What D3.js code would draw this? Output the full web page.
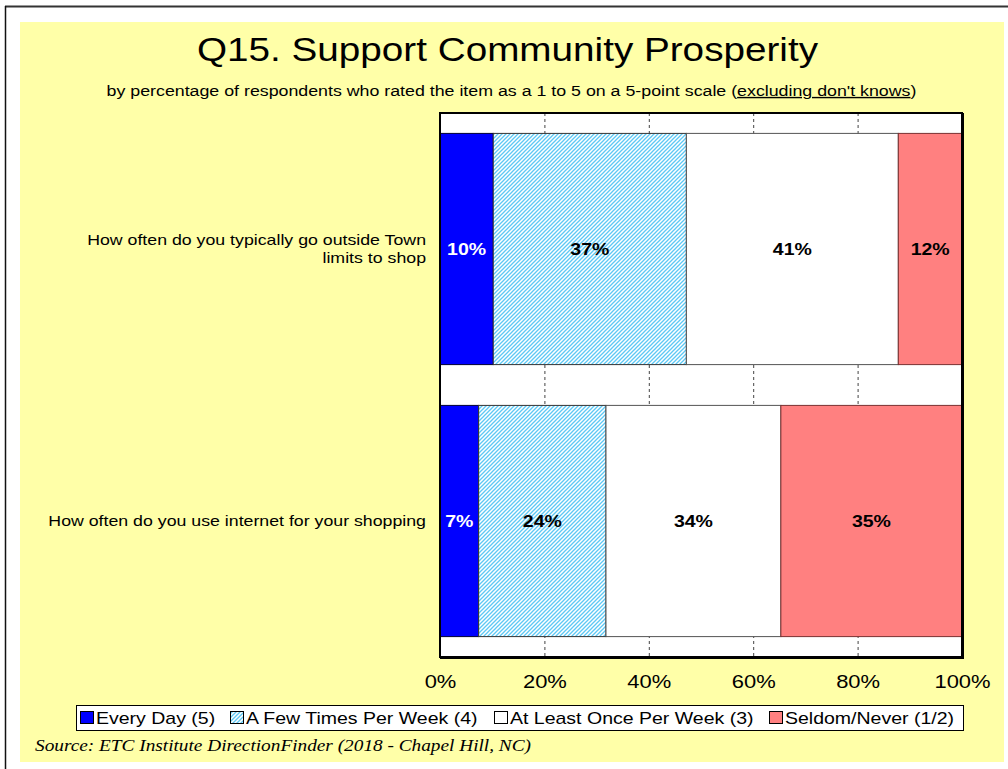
<!DOCTYPE html>
<html>
<head>
<meta charset="utf-8">
<script src="https://cdn.jsdelivr.net/npm/d3@7"></script>
<style>
  html, body { margin: 0; padding: 0; background: #ffffff; }
  svg { display: block; }
</style>
</head>
<body>
<svg id="chart" width="1008" height="769"></svg>
<script>
const categories = [
  "How often do you typically go outside Town limits to shop",
  "How often do you use internet for your shopping"
];
const seriesNames = ["Every Day (5)", "A Few Times Per Week (4)", "At Least Once Per Week (3)", "Seldom/Never (1/2)"];
const everyDay = [10.2, 7.4];
const fewTimes = [37.0, 24.4];
const onceWeek = [40.6, 33.5];
const seldom = [12.2, 34.7];
const tickValues = [0, 20, 40, 60, 80, 100];
const tickLabels = ["0%", "20%", "40%", "60%", "80%", "100%"];

const FONT = "Liberation Sans, Arial, sans-serif";
const svg = d3.select("#chart");

// helper: horizontally stretched text
function stretchedText(parent, x, y, sx, anchor) {
  return parent.append("text")
    .attr("transform", `translate(${x},${y}) scale(${sx},1)`)
    .attr("text-anchor", anchor)
    .attr("font-family", FONT).attr("fill", "#000");
}

// outer frame
svg.append("rect").attr("x", 20).attr("y", 22).attr("width", 984).attr("height", 740).attr("fill", "#FFFFA8");
svg.append("line").attr("x1", 5).attr("x2", 1008).attr("y1", 6.5).attr("y2", 6.5).attr("stroke", "#333").attr("stroke-width", 2);
svg.append("line").attr("x1", 5.5).attr("x2", 5.5).attr("y1", 6).attr("y2", 769).attr("stroke", "#111").attr("stroke-width", 1.5);

// pattern
const defs = svg.append("defs");
const pat = defs.append("pattern").attr("id", "hatch").attr("patternUnits", "userSpaceOnUse")
  .attr("width", 4).attr("height", 4);
pat.append("rect").attr("width", 4).attr("height", 4).attr("fill", "#ffffff");
pat.append("path").attr("d", "M-1,1 l2,-2 M0,4 l4,-4 M3,5 l2,-2").attr("stroke", "#5CC8F5").attr("stroke-width", 1.3);

// title
svg.append("text").attr("x", 507.5).attr("y", 61).attr("text-anchor", "middle")
  .attr("font-family", FONT).attr("font-size", 33).attr("fill", "#000")
  .attr("textLength", 621).attr("lengthAdjust", "spacingAndGlyphs")
  .text("Q15. Support Community Prosperity");
const sub = stretchedText(svg, 511.5, 96, 1.27, "middle").attr("font-size", 14);
sub.append("tspan").text("by percentage of respondents who rated the item as a 1 to 5 on a 5-point scale (");
sub.append("tspan").attr("text-decoration", "underline").text("excluding don't knows");
sub.append("tspan").text(")");

// scales
const x = d3.scaleLinear().domain([0, 100]).range([440, 962]);
const y = d3.scaleBand().domain(categories).range([113, 657]).paddingInner(0.15).paddingOuter(0.075);

// plot area
svg.append("rect").attr("x", 440).attr("y", 113).attr("width", 522).attr("height", 544).attr("fill", "#fff");

// gridlines
svg.append("g").selectAll("line").data(tickValues.slice(1, -1)).join("line")
  .attr("x1", d => x(d) + 0.5).attr("x2", d => x(d) + 0.5)
  .attr("y1", 113).attr("y2", 657)
  .attr("stroke", "#444").attr("stroke-width", 1).attr("stroke-dasharray", "3,3");

// stacked data
const rows = categories.map((c, i) => ({ cat: c, e: everyDay[i], f: fewTimes[i], o: onceWeek[i], s: seldom[i] }));
const stacked = d3.stack().keys(["e", "f", "o", "s"])(rows);
const fills = ["#0000FF", "url(#hatch)", "#FFFFFF", "#FF8080"];
const strokes = ["#000033", "#333333", "#555555", "#7a3030"];
const labelColors = ["#ffffff", "#000", "#000", "#000"];

stacked.forEach((layer, li) => {
  const g = svg.append("g");
  g.selectAll("rect").data(layer).join("rect")
    .attr("x", d => x(d[0])).attr("width", d => x(d[1]) - x(d[0]))
    .attr("y", d => y(d.data.cat)).attr("height", y.bandwidth())
    .attr("fill", fills[li]).attr("stroke", strokes[li]).attr("stroke-width", 1);
  g.selectAll("text").data(layer).join("text")
    .attr("transform", d => `translate(${(x(d[0]) + x(d[1])) / 2},${y(d.data.cat) + y.bandwidth() / 2 + 6}) scale(1.22,1)`)
    .attr("text-anchor", "middle")
    .attr("font-family", FONT).attr("font-weight", "bold").attr("font-size", 16)
    .attr("fill", labelColors[li])
    .text(d => Math.round(d[1] - d[0]) + "%");
});

// plot border
svg.append("rect").attr("x", 440).attr("y", 113).attr("width", 522).attr("height", 544)
  .attr("fill", "none").attr("stroke", "#000").attr("stroke-width", 2);
svg.append("line").attr("x1", 440).attr("x2", 963.5).attr("y1", 657.5).attr("y2", 657.5).attr("stroke", "#000").attr("stroke-width", 3);
svg.append("line").attr("x1", 962.5).attr("x2", 962.5).attr("y1", 113).attr("y2", 659).attr("stroke", "#000").attr("stroke-width", 3);

// x axis
const xAxis = d3.axisBottom(x).tickValues(tickValues).tickFormat((d, i) => tickLabels[i]).tickSize(0).tickPadding(0);
const ax = svg.append("g").attr("transform", "translate(0,688)").call(xAxis);
ax.select(".domain").remove();
ax.selectAll("text").attr("font-family", FONT).attr("font-size", 18).attr("fill", "#000")
  .attr("dy", 0).attr("y", 0).attr("transform", "scale(1.22,1)");

// y axis labels
const catLines = [
  ["How often do you typically go outside Town", "limits to shop"],
  ["How often do you use internet for your shopping"]
];
categories.forEach((c, i) => {
  const lines = catLines[i];
  const cy = y(c) + y.bandwidth() / 2;
  lines.forEach((ln, j) => {
    stretchedText(svg, 426, cy + 5 + (j - (lines.length - 1) / 2) * 18, 1.25, "end")
      .attr("font-size", 14.2).text(ln);
  });
});

// legend
svg.append("rect").attr("x", 76.5).attr("y", 705.5).attr("width", 887).attr("height", 25)
  .attr("fill", "#fff").attr("stroke", "#000").attr("stroke-width", 1);
const legX = [80, 230, 494, 769];
seriesNames.forEach((n, i) => {
  svg.append("rect").attr("x", legX[i] + 0.5).attr("y", 711.5).attr("width", 13).attr("height", 12)
    .attr("fill", fills[i]).attr("stroke", "#000").attr("stroke-width", 1);
  stretchedText(svg, legX[i] + 16, 724, 1.22, "start").attr("font-size", 16).text(n);
});

// source
svg.append("text").attr("x", 35).attr("y", 751)
  .attr("font-family", "Liberation Serif, Times New Roman, serif").attr("font-style", "italic").attr("font-size", 16).attr("fill", "#000")
  .attr("textLength", 496).attr("lengthAdjust", "spacingAndGlyphs")
  .text("Source:  ETC Institute DirectionFinder (2018 - Chapel Hill, NC)");
</script>
</body>
</html>
